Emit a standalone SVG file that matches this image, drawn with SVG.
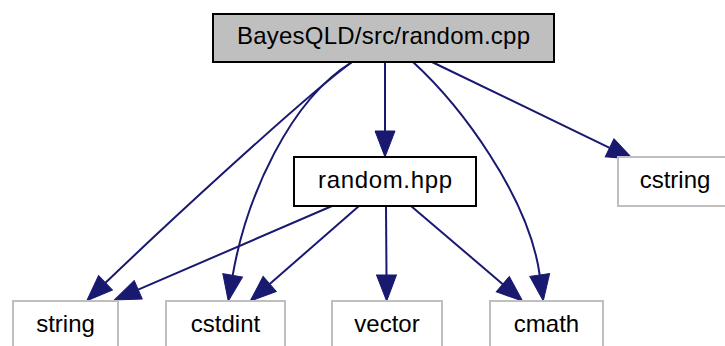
<svg xmlns="http://www.w3.org/2000/svg" width="725" height="346" viewBox="0 0 725 346">
<style>
.t{font-family:"Liberation Sans",Arial,sans-serif;font-size:24px;fill:#000;text-anchor:middle}
.main{fill:#bfbfbf;stroke:#000;stroke-width:2}
.inc{fill:#fff;stroke:#000;stroke-width:2}
.ext{fill:#fff;stroke:#bfbfbf;stroke-width:2}
.e{fill:none;stroke:#191970;stroke-width:2;marker-end:url(#ah)}
</style>
<defs>
<marker id="ah" markerUnits="userSpaceOnUse" markerWidth="27" markerHeight="20" refX="0" refY="10" orient="auto" overflow="visible">
<path d="M0,0 L26,10 L0,20 Z" fill="#191970" stroke="#191970" stroke-width="1"/>
</marker>
</defs>
<g id="edges">
<path class="e" d="M352,62 C300,100 150,240 105.5,282.8"/>
<path class="e" d="M352,62 C290,100 246.3,196.6 232.7,275.4"/>
<path class="e" d="M385,62 L385,131"/>
<path class="e" d="M413,62 C460,105 528.7,195.8 539.7,275"/>
<path class="e" d="M432,62 L609.6,147.8"/>
<path class="e" d="M332,206 L138.2,289.7"/>
<path class="e" d="M359,206 L269.7,284"/>
<path class="e" d="M386,206 L386.5,275"/>
<path class="e" d="M411,206 L502.8,284.2"/>
</g>
<g id="node_random_cpp">
<rect class="main" x="213" y="14" width="341" height="48"/>
<text class="t" x="383.5" y="44" textLength="293" lengthAdjust="spacing">BayesQLD/src/random.cpp</text>
</g>
<g id="node_random_hpp">
<rect class="inc" x="294" y="157" width="182" height="49"/>
<text class="t" x="385" y="188" textLength="134" lengthAdjust="spacing">random.hpp</text>
</g>
<g id="node_cstring">
<rect class="ext" x="618" y="157" width="116" height="49"/>
<text class="t" x="675" y="188">cstring</text>
</g>
<g id="node_string">
<rect class="ext" x="13" y="301" width="105" height="48"/>
<text class="t" x="65.5" y="332">string</text>
</g>
<g id="node_cstdint">
<rect class="ext" x="166" y="301" width="119" height="48"/>
<text class="t" x="225.5" y="332">cstdint</text>
</g>
<g id="node_vector">
<rect class="ext" x="332" y="301" width="110" height="48"/>
<text class="t" x="387" y="332">vector</text>
</g>
<g id="node_cmath">
<rect class="ext" x="490" y="301" width="113" height="48"/>
<text class="t" x="546.5" y="332">cmath</text>
</g>
</svg>
